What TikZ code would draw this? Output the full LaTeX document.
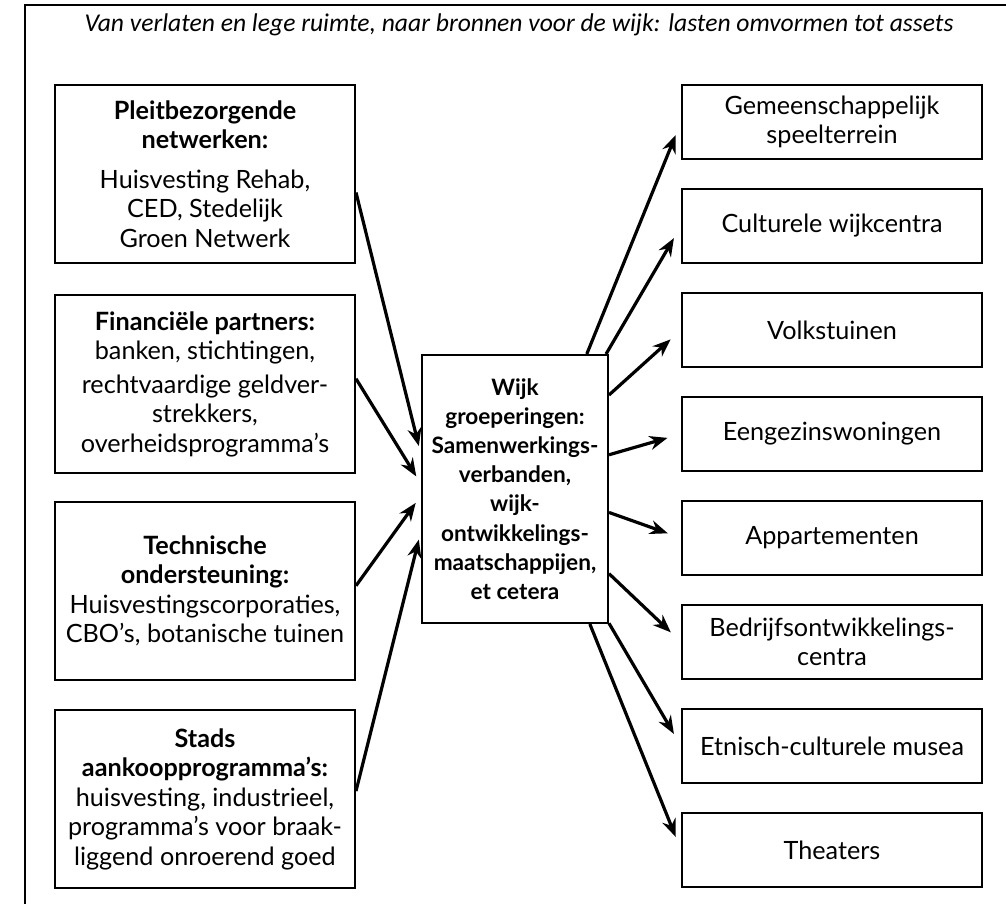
\documentclass[tikz,border=0pt]{standalone}
\usepackage{fontspec}
\setmainfont{Lato}
\newfontfamily\titlefont{Carlito}
\usetikzlibrary{arrows.meta}

\begin{document}
\begin{tikzpicture}[x=0.5pt,y=-0.5pt]
\tikzstyle{every node}=[font=\fontsize{12.6}{14.75}\selectfont]
\tikzstyle{srcbox}=[draw, line width=1pt, align=center, minimum width=150pt, minimum height=89pt, inner sep=0pt]
\tikzstyle{goalbox}=[draw, line width=1pt, align=center, minimum width=150pt, minimum height=37pt, inner sep=0pt]
\tikzstyle{hub}=[draw, line width=1pt, align=center, minimum width=93pt, minimum height=134pt, inner sep=0pt, font=\fontsize{11.3}{14.6}\selectfont]
\tikzstyle{flow}=[line width=1.6pt, -{Stealth[length=9pt,width=7pt]}]

\useasboundingbox (0,0) rectangle (1006,904);
\draw[line width=1.3pt] (25,904) -- (25,5) -- (1006,5);
\node[anchor=base] (title) at (519,32) {\titlefont\itshape\fontsize{12.8}{15}\selectfont Van verlaten en lege ruimte, naar bronnen voor de wijk: lasten omvormen tot assets};

\node[srcbox] (pleit) at (205,174) {\textbf{Pleitbezorgende}\\\textbf{netwerken:}\\[5pt]Huisvesting Rehab,\\CED, Stedelijk\\Groen Netwerk};
\node[srcbox] (financ) at (205,384) {\textbf{Financiële partners:}\\banken, stichtingen,\\[2pt]rechtvaardige geldver-\\strekkers,\\overheidsprogramma’s};
\node[srcbox] (techn) at (205,591) {\textbf{Technische}\\\textbf{ondersteuning:}\\Huisvestingscorporaties,\\CBO’s, botanische tuinen};
\node[srcbox] (stads) at (205,799) {\textbf{Stads}\\\textbf{aankoopprogramma’s:}\\huisvesting, industrieel,\\programma’s voor braak-\\liggend onroerend goed};

\node[hub] (wijk) at (515,489) {\textbf{Wijk}\\\textbf{groeperingen:}\\\textbf{Samenwerkings-}\\\textbf{verbanden,}\\\textbf{wijk-}\\\textbf{ontwikkelings-}\\\textbf{maatschappijen,}\\\textbf{et cetera}};

\foreach \name/\txt [count=\i from 0] in {speel/{Gemeenschappelijk\\speelterrein}, cultuur/{Culturele wijkcentra}, tuinen/{Volkstuinen}, woning/{Eengezinswoningen}, appart/{Appartementen}, bedrijf/{Bedrijfsontwikkelings-\\centra}, museum/{Etnisch-culturele musea}, theater/{Theaters}}
  \node[goalbox] (\name) at (832,122+104*\i) {\txt};

\draw[flow, shorten >=4.5pt] (pleit.-7) -- (wijk.160);
\draw[flow, shorten >=4.5pt] (financ.2) -- (wijk.177);
\draw[flow, shorten >=4.5pt] (techn.2) -- (wijk.184);
\draw[flow, shorten >=4.5pt] (stads.3) -- (wijk.204);

\foreach \a/\name in {62/speel, 56/cultuur, 45/tuinen, 20/woning, -14/appart, -42/bedrijf, -55/museum, -61/theater}
  \draw[flow, shorten >=7pt] (wijk.\a) -- (\name.west);

\end{tikzpicture}
\end{document}
